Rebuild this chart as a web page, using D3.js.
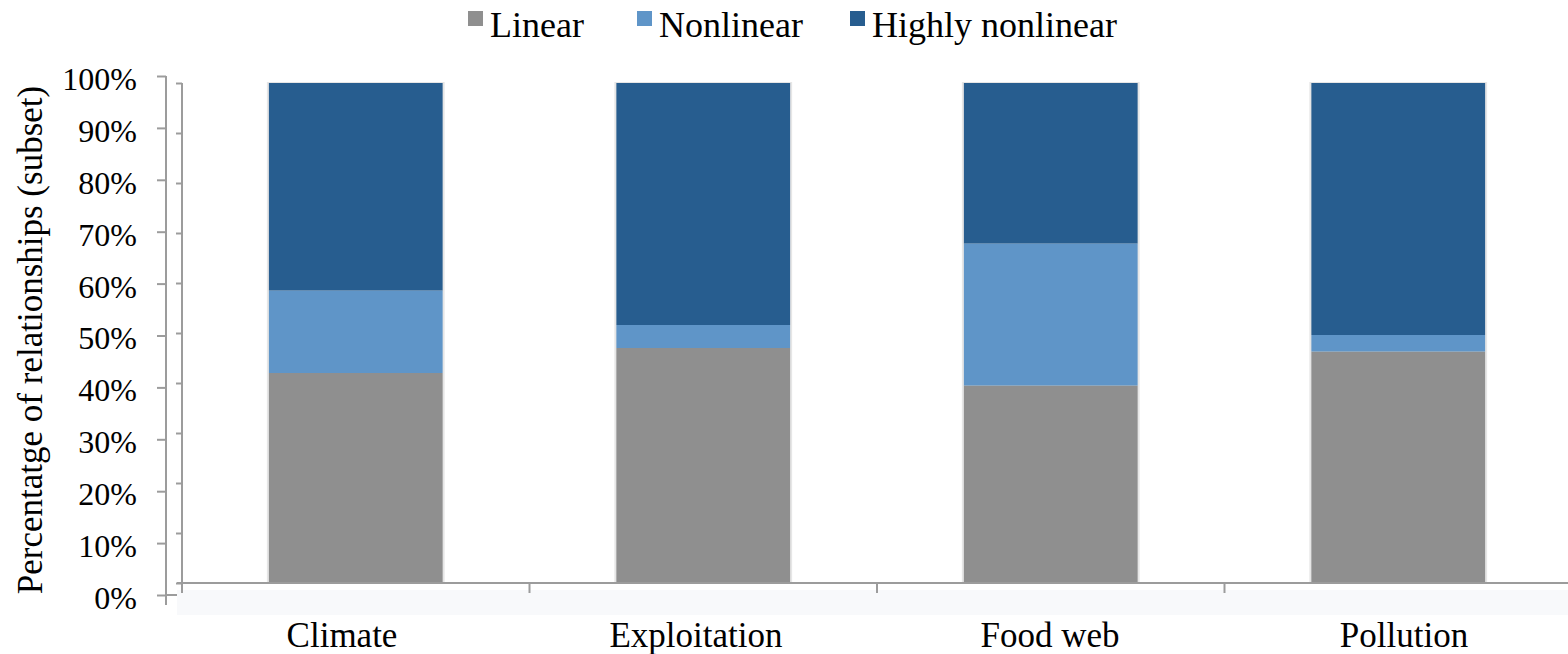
<!DOCTYPE html>
<html>
<head>
<meta charset="utf-8">
<script src="https://cdn.jsdelivr.net/npm/d3@7"></script>
</head>
<body style="margin:0">
<svg id="chart" width="1568" height="654"></svg>
<script>
// ---- data ----
const categories = ["Climate", "Exploitation", "Food web", "Pollution"];
const seriesNames = ["Linear", "Nonlinear", "Highly nonlinear"];
const linear = [42.0, 47.0, 39.5, 46.3];
const nonlinear = [16.5, 4.6, 28.4, 3.3];
const highlyNonlinear = [41.5, 48.4, 32.1, 50.4];
const yTicks = [0, 10, 20, 30, 40, 50, 60, 70, 80, 90, 100];
const colors = ["#8f8f8f", "#5f95c8", "#275d8f"];

const FONT = "Liberation Serif";

const rows = categories.map((c, i) => ({
  category: c, "Linear": linear[i], "Nonlinear": nonlinear[i], "Highly nonlinear": highlyNonlinear[i]
}));

const svg = d3.select("#chart").attr("font-family", FONT);
const axisColor = "#9c9c9c";

// ---- scales ----
const yInner = d3.scaleLinear().domain([0, 100]).range([583, 83]);
const xInner = d3.scaleBand().domain(categories).range([182, 1572]).paddingInner(0.5).paddingOuter(0.25);
const yOuter = d3.scaleLinear().domain([0, 100]).range([595, 76]);
const xOuter = d3.scaleBand().domain(categories).range([165, 1581]);

// ---- outer x axis line (partly hidden by band) ----
svg.append("line").attr("x1", 166).attr("x2", 1568).attr("y1", 595).attr("y2", 595)
  .attr("stroke", axisColor).attr("stroke-width", 2);
svg.append("line").attr("x1", 166).attr("x2", 166).attr("y1", 595).attr("y2", 605)
  .attr("stroke", axisColor).attr("stroke-width", 2);

// pale band below the inner axis
svg.append("rect").attr("x", 177).attr("y", 590).attr("width", 1391).attr("height", 25).attr("fill", "#f8f9fb");

// ---- outer y axis ----
const gOuter = svg.append("g").attr("transform", "translate(166,0)")
  .call(d3.axisLeft(yOuter).tickValues(yTicks).tickSize(9).tickSizeOuter(0).tickFormat(d => d + "%"));
gOuter.attr("font-family", FONT).attr("font-size", 32);
gOuter.select(".domain").attr("stroke", axisColor).attr("stroke-width", 2)
  .attr("d", "M0,76V595");
gOuter.selectAll(".tick line").attr("stroke", axisColor).attr("stroke-width", 2);
gOuter.selectAll(".tick text").attr("x", -29).attr("dy", "0.42em")
  .attr("font-family", FONT).attr("font-size", 32).attr("fill", "#000");

// ---- bar shadows (soft edges) ----
const stacked = d3.stack().keys(seriesNames)(rows);
svg.append("g").selectAll("rect").data(categories).join("rect")
  .attr("x", d => xInner(d) - 2)
  .attr("width", xInner.bandwidth() + 4)
  .attr("y", yInner(100) - 1)
  .attr("height", yInner(0) - yInner(100) + 1)
  .attr("fill", "#e6e6e6");

// ---- bars ----
svg.append("g").selectAll("g").data(stacked).join("g")
  .attr("fill", (d, i) => colors[i])
  .selectAll("rect").data(d => d).join("rect")
  .attr("x", d => xInner(d.data.category))
  .attr("width", xInner.bandwidth())
  .attr("y", d => yInner(d[1]))
  .attr("height", d => yInner(d[0]) - yInner(d[1]));

// ---- inner y axis ----
const gInner = svg.append("g").attr("transform", "translate(182,0)")
  .call(d3.axisLeft(yInner).tickValues(yTicks).tickSize(6).tickSizeOuter(0).tickFormat(""));
gInner.select(".domain").attr("stroke", axisColor).attr("stroke-width", 2).attr("d", "M0,83V593");
gInner.selectAll(".tick line").attr("stroke", axisColor).attr("stroke-width", 2);

// ---- inner x axis ----
const gX = svg.append("g").attr("transform", "translate(0,583)");
gX.append("line").attr("x1", 177).attr("x2", 1568).attr("y1", 0).attr("y2", 0)
  .attr("stroke", axisColor).attr("stroke-width", 2);
const step = xInner.step();
const boundaries = categories.map(c => xInner(c) - step * 0.25).slice(1);
gX.selectAll("line.tk").data(boundaries).join("line").attr("class", "tk")
  .attr("x1", d => d).attr("x2", d => d).attr("y1", 0).attr("y2", 10)
  .attr("stroke", axisColor).attr("stroke-width", 2);

// ---- x labels ----
svg.append("g").selectAll("text").data(categories).join("text")
  .attr("x", d => xOuter(d) + xOuter.bandwidth() / 2)
  .attr("y", 647)
  .attr("text-anchor", "middle")
  .attr("font-family", FONT)
  .attr("font-size", 35)
  .attr("fill", "#000")
  .text(d => d);

// ---- y title ----
svg.append("text")
  .attr("transform", "translate(42,340) rotate(-90)")
  .attr("text-anchor", "middle")
  .attr("font-family", FONT)
  .attr("font-size", 35)
  .attr("fill", "#000")
  .text("Percentatge of relationships (subset)");

// ---- legend ----
const legendX = [468, 637, 850];
const lg = svg.append("g").selectAll("g").data(seriesNames).join("g")
  .attr("transform", (d, i) => `translate(${legendX[i]},0)`);
lg.append("rect").attr("x", 0).attr("y", 11).attr("width", 15).attr("height", 15)
  .attr("fill", (d, i) => colors[i]);
lg.append("text").attr("x", 22).attr("y", 37)
  .attr("font-family", FONT).attr("font-size", 36).attr("fill", "#000").text(d => d);
</script>
</body>
</html>
